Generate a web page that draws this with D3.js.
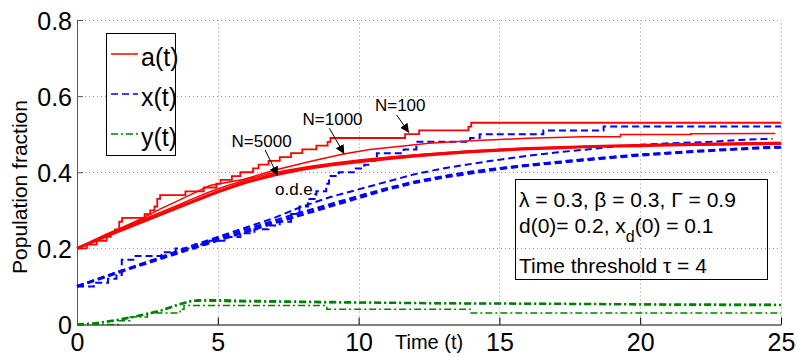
<!DOCTYPE html>
<html>
<head>
<meta charset="utf-8">
<script src="https://cdn.jsdelivr.net/npm/d3@7"></script>
<style>
  body { margin: 0; background: #fff; }
  svg { display: block; font-family: "Liberation Sans", Arial, sans-serif; }
</style>
</head>
<body>
<div id="vis-container"></div>
<script>
// chart size
const width = 797;
const height = 357;
const margin = { top: 20, right: 16, bottom: 32.5, left: 77 };

// axis ticks
const xTicks = [0, 5, 10, 15, 20, 25];
const yTicks = [0, 0.2, 0.4, 0.6, 0.8];
const yTickLabels = ["0", "0.2", "0.4", "0.6", "0.8"];

// a(t) -- ode and stochastic runs
const aOdeT = [0, 1, 2, 3, 4, 5, 6, 7, 8, 9, 10, 11, 12, 13, 14, 15, 16, 17, 18, 19, 20, 21, 22, 23, 24, 25];
const aOdeV = [0.200, 0.231, 0.261, 0.290, 0.320, 0.349, 0.374, 0.393, 0.408, 0.419, 0.428, 0.436, 0.443, 0.449, 0.454, 0.458, 0.462, 0.464, 0.467, 0.469, 0.470, 0.472, 0.473, 0.474, 0.475, 0.476];
const a5000T = [0, 0.4, 0.9, 1.3, 1.8, 2.4, 3.0, 3.6, 4.1, 4.7, 5.3, 6.0, 6.8, 7.5, 8.3, 9.2, 10.1, 11.2, 12.4, 13.8, 15.3, 17.0, 18.8, 20.6, 22.5, 24.9];
const a5000V = [0.200, 0.213, 0.231, 0.244, 0.259, 0.278, 0.296, 0.314, 0.330, 0.348, 0.364, 0.380, 0.396, 0.406, 0.416, 0.425, 0.433, 0.441, 0.448, 0.455, 0.461, 0.466, 0.469, 0.472, 0.475, 0.478];
const a1000T = [0, 0.5, 1, 1.5, 2, 2.5, 3, 3.5, 4, 4.72, 5.9, 7, 8.27, 9.46, 10.4, 11.5, 12.5, 14, 16, 18, 19.3, 19.3, 21.8, 21.8, 24.8];
const a1000V = [0.200, 0.218, 0.236, 0.252, 0.268, 0.286, 0.305, 0.322, 0.340, 0.365, 0.381, 0.405, 0.428, 0.448, 0.460, 0.468, 0.476, 0.483, 0.489, 0.493, 0.493, 0.499, 0.499, 0.501, 0.502];
const a100T = [0, 0.35, 0.7, 1.05, 1.2, 1.35, 1.5, 1.6, 2.4, 2.6, 2.75, 2.85, 2.95, 3.85, 4.5, 4.95, 5.1, 5.5, 5.8, 6.25, 6.45, 6.8, 7.2, 7.6, 8.0, 8.5, 8.9, 9.0, 11.65, 12.15, 13.9, 14.0, 25];
const a100V = [0.20, 0.21, 0.22, 0.23, 0.24, 0.25, 0.27, 0.28, 0.29, 0.30, 0.31, 0.33, 0.34, 0.35, 0.36, 0.37, 0.38, 0.39, 0.40, 0.41, 0.42, 0.43, 0.44, 0.45, 0.46, 0.47, 0.48, 0.49, 0.50, 0.51, 0.52, 0.53, 0.53];

// x(t)
const xOdeT = [0, 1, 2, 3, 4, 5, 6, 7, 8, 9, 10, 11, 12, 13, 14, 15, 16, 17, 18, 19, 20, 21, 22, 23, 24, 25];
const xOdeV = [0.100, 0.125, 0.150, 0.174, 0.198, 0.221, 0.244, 0.267, 0.289, 0.311, 0.333, 0.355, 0.373, 0.387, 0.398, 0.409, 0.418, 0.425, 0.432, 0.439, 0.445, 0.450, 0.455, 0.459, 0.463, 0.466];
const x5000T = [0, 0.8, 1.6, 2.5, 3.3, 4.2, 5.0, 5.9, 6.7, 7.6, 8.4, 9.3, 10.2, 11.1, 12.0, 13.0, 14.0, 15.1, 16.2, 17.4, 18.6, 19.8, 21.0, 22.3, 23.6, 24.9];
const x5000V = [0.100, 0.121, 0.142, 0.164, 0.183, 0.205, 0.226, 0.248, 0.266, 0.287, 0.304, 0.323, 0.342, 0.360, 0.376, 0.390, 0.402, 0.412, 0.421, 0.430, 0.438, 0.446, 0.451, 0.457, 0.462, 0.467];
const x1000T = [0, 1, 2, 3, 4, 5, 6, 7, 8, 9, 10, 11, 12, 13, 14, 15, 16, 17, 18, 19, 20, 21, 22.5, 23.5, 24.7];
const x1000V = [0.100, 0.127, 0.152, 0.178, 0.205, 0.230, 0.255, 0.280, 0.310, 0.335, 0.355, 0.375, 0.395, 0.410, 0.422, 0.433, 0.443, 0.452, 0.459, 0.467, 0.472, 0.476, 0.480, 0.485, 0.488];
const x100T = [0, 0.6, 1.1, 1.4, 1.59, 2.0, 3.0, 3.5, 4.2, 4.7, 5.3, 5.8, 6.3, 6.8, 7.2, 7.6, 7.9, 8.2, 8.5, 8.85, 8.95, 9.3, 9.9, 10.2, 10.4, 10.65, 11.6, 12.05, 13.96, 14.3, 16.56, 18.7, 25];
const x100V = [0.10, 0.11, 0.12, 0.13, 0.17, 0.18, 0.19, 0.20, 0.21, 0.22, 0.23, 0.24, 0.25, 0.26, 0.27, 0.29, 0.31, 0.33, 0.35, 0.37, 0.39, 0.40, 0.41, 0.42, 0.43, 0.45, 0.46, 0.48, 0.49, 0.50, 0.51, 0.52, 0.52];

// y(t)
const yOdeT = [0, 0.5, 1, 1.5, 2, 2.5, 3, 3.5, 4, 4.3, 5, 6, 8, 10, 12.5, 15, 18, 21, 25];
const yOdeV = [0, 0.002, 0.007, 0.013, 0.020, 0.028, 0.037, 0.050, 0.061, 0.064, 0.064, 0.062, 0.060, 0.058, 0.056, 0.055, 0.054, 0.052, 0.051];
const y1000T = [0, 0.7, 1.4, 2.0, 2.6, 3.2, 3.7, 4.1, 4.6, 5.5, 7, 9, 11, 13, 16, 19, 22, 24.8];
const y1000V = [0, 0.004, 0.010, 0.019, 0.029, 0.041, 0.054, 0.061, 0.062, 0.060, 0.059, 0.057, 0.057, 0.055, 0.055, 0.054, 0.053, 0.053];
const y100T = [0, 1.47, 1.88, 2.5, 3.66, 3.8, 8.87, 13.96, 25];
const y100V = [0, 0.01, 0.02, 0.03, 0.04, 0.05, 0.04, 0.03, 0.03];

// legend and text
const legendNames = ["a(t)", "x(t)", "y(t)"];
const paramLines = ["λ = 0.3, β = 0.3, Γ = 0.9", "Time threshold τ = 4"];
// annotation labels: [label, textT, textV, tailT, tailV, headT, headV]
const notes = [
    ["N=100", 10.58, 0.561, 11.35, 0.5505, 11.79, 0.504],
    ["N=1000", 8.01, 0.524, 8.96, 0.5155, 9.49, 0.448],
    ["N=5000", 5.49, 0.466, 6.68, 0.4585, 7.13, 0.391],
    ["o.d.e.", 7.03, 0.340, null, null, null, null]
];

const RED = "#ff0000", BLUE = "#0000ff", GREEN = "#008000";
const DASH = "7,4", DASHDOT = "7,3,2,3";

const svg = d3.select("#vis-container")
    .append("svg")
    .attr("width", width)
    .attr("height", height);

const x = d3.scaleLinear().domain([0, 25]).range([margin.left, width - margin.right]);
const y = d3.scaleLinear().domain([0, 0.8]).range([height - margin.bottom, margin.top]);

// dotted grid
const grid = svg.append("g").attr("stroke", "#9a9a9a").attr("stroke-width", 1).attr("stroke-dasharray", "1,3");
grid.selectAll(".gx").data(xTicks.slice(1)).enter().append("line")
    .attr("x1", d => Math.round(x(d)) + 0.5).attr("x2", d => Math.round(x(d)) + 0.5)
    .attr("y1", y(0)).attr("y2", y(0.8));
grid.selectAll(".gy").data(yTicks.slice(1)).enter().append("line")
    .attr("x1", x(0)).attr("x2", x(25))
    .attr("y1", d => Math.round(y(d)) + 0.5).attr("y2", d => Math.round(y(d)) + 0.5);

// axes
const xAxis = svg.append("g")
    .attr("transform", `translate(0,${y(0)})`)
    .call(d3.axisBottom(x).tickValues(xTicks).tickSizeInner(-7).tickSizeOuter(0).tickPadding(0).tickFormat(d3.format("d")));
xAxis.select(".domain").attr("stroke", "#000");
xAxis.selectAll("text").attr("font-size", "25px").attr("fill", "#000")
    .attr("dy", null).attr("y", 26);

const yAxis = svg.append("g")
    .attr("transform", `translate(${x(0)},0)`)
    .call(d3.axisLeft(y).tickValues(yTicks).tickSizeInner(-6).tickSizeOuter(0).tickPadding(5)
        .tickFormat((d, i) => yTickLabels[i]));
yAxis.select(".domain").attr("stroke", "#555");
yAxis.selectAll("text").attr("font-size", "25px").attr("fill", "#000").attr("dy", "0.36em");
yAxis.selectAll(".tick line").attr("stroke", "#555");

// axis labels
svg.append("text")
    .attr("transform", `translate(27,187) rotate(-90)`)
    .attr("text-anchor", "middle")
    .attr("font-size", "21px")
    .text("Population fraction");
svg.append("text")
    .attr("x", 395).attr("y", 349)
    .attr("font-size", "20px")
    .text("Time (t)");

// curves
function pts(ts, vs) { return ts.map((t, i) => [t, vs[i]]); }
const lineLin = d3.line().x(d => x(d[0])).y(d => y(d[1]));
const lineStep = d3.line().x(d => x(d[0])).y(d => y(d[1])).curve(d3.curveStepAfter);

const curves = [
    { d: pts(y100T, y100V), gen: lineStep, c: GREEN, w: 1.5, dash: DASHDOT },
    { d: pts(y1000T, y1000V), gen: lineLin, c: GREEN, w: 1.5, dash: DASHDOT },
    { d: pts(yOdeT, yOdeV), gen: lineLin, c: GREEN, w: 2.5, dash: DASHDOT },
    { d: pts(x100T, x100V), gen: lineStep, c: BLUE, w: 2, dash: DASH },
    { d: pts(x1000T, x1000V), gen: lineLin, c: BLUE, w: 2, dash: DASH },
    { d: pts(x5000T, x5000V), gen: lineLin, c: BLUE, w: 2, dash: DASH },
    { d: pts(xOdeT, xOdeV), gen: lineLin, c: BLUE, w: 3, dash: DASH },
    { d: pts(a100T, a100V), gen: lineStep, c: RED, w: 1.8, dash: null },
    { d: pts(a1000T, a1000V), gen: lineLin, c: RED, w: 1.5, dash: null },
    { d: pts(a5000T, a5000V), gen: lineLin, c: RED, w: 1.5, dash: null },
    { d: pts(aOdeT, aOdeV), gen: lineLin, c: RED, w: 3.2, dash: null }
];
svg.append("g").selectAll("path").data(curves).enter().append("path")
    .attr("d", d => d.gen(d.d))
    .attr("fill", "none")
    .attr("stroke", d => d.c)
    .attr("stroke-width", d => d.w)
    .attr("stroke-dasharray", d => d.dash);

// arrows + labels
svg.append("defs").append("marker")
    .attr("id", "arr").attr("viewBox", "0 0 10 10").attr("refX", 10).attr("refY", 5)
    .attr("markerWidth", 9).attr("markerHeight", 9).attr("markerUnits", "userSpaceOnUse")
    .attr("orient", "auto")
    .append("path").attr("d", "M0,0L10,5L0,10Z").attr("fill", "#000");

const ann = svg.append("g");
notes.forEach(n => {
    ann.append("text").attr("x", x(n[1])).attr("y", y(n[2])).attr("font-size", "17px").text(n[0]);
    if (n[3] !== null) {
        ann.append("line")
            .attr("x1", x(n[3])).attr("y1", y(n[4]))
            .attr("x2", x(n[5])).attr("y2", y(n[6]))
            .attr("stroke", "#000").attr("stroke-width", 1)
            .attr("marker-end", "url(#arr)");
    }
});

// legend
const legend = svg.append("g");
legend.append("rect").attr("x", 106.5).attr("y", 33.5).attr("width", 69).attr("height", 122)
    .attr("fill", "#fff").attr("stroke", "#000").attr("stroke-width", 1);
const legStyles = [[RED, null], [BLUE, DASH], [GREEN, DASHDOT]];
legendNames.forEach((name, i) => {
    const ly = 54 + i * 40;
    legend.append("line").attr("x1", 111).attr("x2", 138).attr("y1", ly).attr("y2", ly)
        .attr("stroke", legStyles[i][0]).attr("stroke-width", 1.5)
        .attr("stroke-dasharray", legStyles[i][1]);
    legend.append("text").attr("x", 141).attr("y", ly + 12).attr("font-size", "25px").text(name);
});

// parameter box
const box = svg.append("g");
box.append("rect").attr("x", 515.5).attr("y", 179.5).attr("width", 252).attr("height", 100)
    .attr("fill", "none").attr("stroke", "#000").attr("stroke-width", 1);
box.append("text").attr("x", 519).attr("y", 207).attr("font-size", "21px").text(paramLines[0]);
const l2 = box.append("text").attr("x", 519).attr("y", 233).attr("font-size", "21px");
l2.append("tspan").text("d(0)= 0.2, x");
l2.append("tspan").attr("dy", 9).attr("font-size", "16px").text("d");
l2.append("tspan").attr("dy", -9).text("(0) = 0.1");
box.append("text").attr("x", 519).attr("y", 273).attr("font-size", "21px").text(paramLines[1]);
</script>
</body>
</html>
